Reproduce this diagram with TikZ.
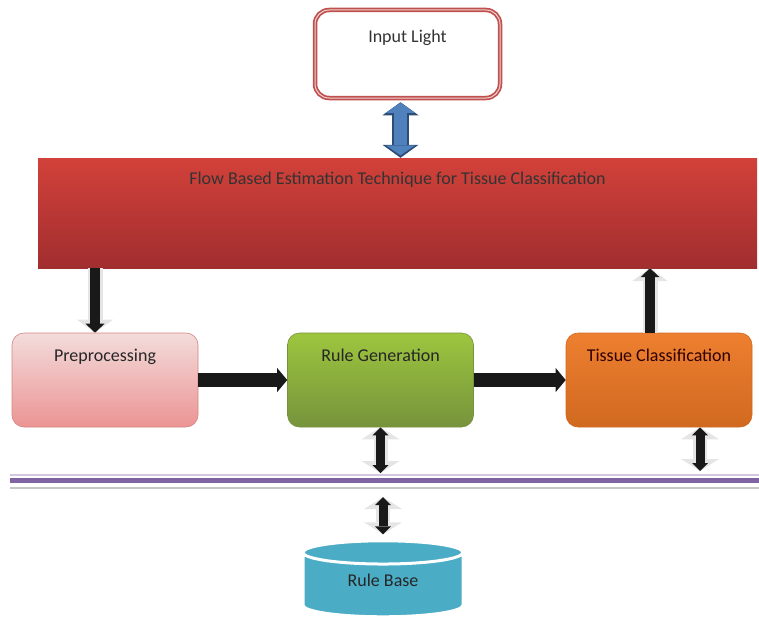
\documentclass[tikz,border=0pt]{standalone}
\usepackage{fontspec}
\setmainfont{Carlito}
\usetikzlibrary{arrows.meta,shapes.geometric}

\definecolor{lightred}{HTML}{C0504D}
\definecolor{bannertop}{HTML}{D2413A}
\definecolor{bannerbot}{HTML}{A12E2F}
\definecolor{pinktop}{HTML}{F2DCDB}
\definecolor{pinkbot}{HTML}{EC9494}
\definecolor{greentop}{HTML}{9DC63E}
\definecolor{greenbot}{HTML}{76933C}
\definecolor{orangetop}{HTML}{EE7F30}
\definecolor{orangebot}{HTML}{D0691F}
\definecolor{dbblue}{HTML}{4BACC6}
\definecolor{arrowblue}{HTML}{4F81BD}
\definecolor{arrowblueD}{HTML}{2C4D75}
\definecolor{buspurple}{HTML}{8064A2}

\begin{document}
\begin{tikzpicture}[
  x=1pt, y=-1pt,
  font=\fontsize{18}{21}\selectfont,
  inbox/.style={rectangle, rounded corners=14pt, draw=lightred, line width=4.5pt,
                postaction={draw=white!75!lightred, line width=1pt},
                fill=white, minimum width=185pt, inner ysep=0pt,
                text height=32pt, text depth=56pt, text=black!80},
  banner/.style={rectangle, top color=bannertop, bottom color=bannerbot,
                 minimum width=719pt, inner ysep=0pt,
                 text height=26pt, text depth=84pt, text=black!80},
  stepbox/.style={rectangle, rounded corners=12pt, line width=0.6pt,
                  minimum width=186pt, inner ysep=0pt,
                  text height=28pt, text depth=66pt, text=black!85},
  database/.style={cylinder, shape border rotate=90, aspect=0.3,
                   minimum width=160pt, minimum height=76pt, text depth=14pt,
                   draw=white, line width=3pt, fill=dbblue, text=black!85},
  blkarrow/.style={line width=10pt, draw=black!90,
                   -{Triangle[length=9pt,width=19pt,line width=0pt]},
                   preaction={draw=gray!20, line width=15pt,
                              -{Triangle[length=13pt,width=36pt,line width=0pt]}}},
  dblarrow/.style={line width=9pt, draw=black!90,
                   {Triangle[length=8pt,width=16pt,line width=0pt]}-{Triangle[length=8pt,width=16pt,line width=0pt]},
                   preaction={draw=gray!20, line width=14pt,
                              {Triangle[length=12pt,width=38pt,line width=0pt]}-{Triangle[length=12pt,width=38pt,line width=0pt]}}},
  flowarrow/.style={line width=14pt, draw=black!90,
                    -{Triangle[length=10pt,width=24pt,line width=0pt]}},
  bluearrow/.style={line width=17pt, draw=arrowblueD,
                    {Triangle[length=13pt,width=36pt,line width=0pt]}-{Triangle[length=13pt,width=36pt,line width=0pt]},
                    postaction={draw=arrowblue, line width=13pt, shorten <=2.5pt, shorten >=2.5pt,
                                {Triangle[length=10pt,width=29pt,line width=0pt]}-{Triangle[length=10pt,width=29pt,line width=0pt]}}},
  busline/.style={draw=buspurple, line width=5pt}
]
\useasboundingbox (0,0) rectangle (759,626);

% boxes
\node[inbox]  (light)   at (407.5, 54)  {Input Light};
\node[banner] (flow)    at (397.5, 213) {Flow Based Estimation Technique for Tissue Classification};
\node[stepbox, draw=lightred!70, top color=pinktop, bottom color=pinkbot]
              (pre)     at (105, 380)   {Preprocessing};
\node[stepbox, draw=greenbot, top color=greentop, bottom color=greenbot]
              (rulegen) at (380.5, 380) {Rule Generation};
\node[stepbox, draw=orangebot, top color=orangetop, bottom color=orangebot, text=black!70!red!60!black]
              (tissue)  at (659, 380)   {Tissue Classification};
\node[database] (rulebase) at (383, 587) {Rule Base};

% bus
\coordinate (busL) at (10, 480);
\coordinate (busR) at (759, 480);
\draw[gray!45, line width=2.5pt] ([yshift=-8pt]busL) -- ([yshift=-8pt]busR);
\draw[buspurple!35, line width=1.5pt] ([yshift=5pt]busL) -- ([yshift=5pt]busR);
\draw[busline] (busL) -- (busR);

% arrows
\coordinate (lt) at ([xshift=-7pt]light.south);
\draw[bluearrow, shorten <=2pt] (lt) -- (lt |- flow.north);

\coordinate (dn) at ([xshift=-10pt]pre.north);
\draw[blkarrow] (dn |- flow.south) -- (dn);
\coordinate (up) at ([xshift=-9pt]tissue.north);
\draw[blkarrow] (up) -- (up |- flow.south);

\draw[flowarrow] (pre) -- (rulegen);
\draw[flowarrow] (rulegen) -- (tissue);

\draw[dblarrow, shorten >=7pt] (rulegen.south) -- (rulegen.south |- busL);
\coordinate (tb) at ([xshift=41pt]tissue.south);
\draw[dblarrow, shorten >=9pt] (tb) -- (tb |- busL);
\draw[dblarrow, shorten <=17pt, shorten >=5pt] (rulebase.north |- busL) -- (rulebase.north);
\end{tikzpicture}
\end{document}
